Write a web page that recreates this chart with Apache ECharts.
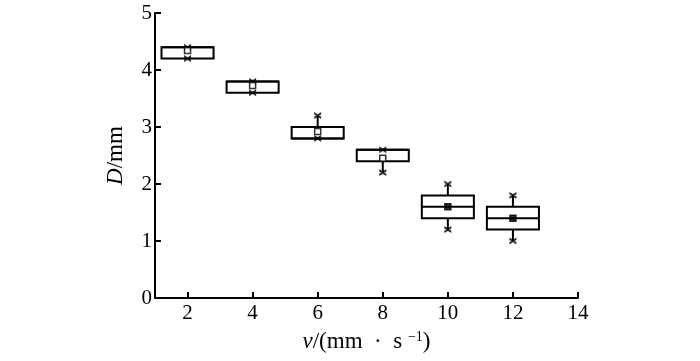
<!DOCTYPE html>
<html>
<head>
<meta charset="utf-8">
<script src="https://cdn.jsdelivr.net/npm/echarts@6/dist/echarts.min.js"></script>
<style>html,body{margin:0;padding:0;background:#fff}#c{width:700px;height:361px}</style>
</head>
<body>
<div id="c"></div>
<script>
var speeds = [2, 4, 6, 8, 10, 12];
var minVals = [4.2, 3.6, 2.8, 2.2, 1.2, 1.0];
var q1Vals = [4.2, 3.6, 2.8, 2.4, 1.4, 1.2];
var medianVals = [4.4, 3.8, 2.8, 2.6, 1.6, 1.4];
var q3Vals = [4.4, 3.8, 3.0, 2.6, 1.8, 1.6];
var maxVals = [4.4, 3.8, 3.2, 2.6, 2.0, 1.8];
var meanVals = [4.34, 3.73, 2.92, 2.45, 1.6, 1.4];
var xTicks = [2, 4, 6, 8, 10, 12, 14];
var boxWidthUnits = 1.6;

var boxData = speeds.map(function (x, i) {
  return [x, minVals[i], q1Vals[i], medianVals[i], q3Vals[i], maxVals[i]];
});
var extremeData = [];
speeds.forEach(function (x, i) {
  extremeData.push([x, minVals[i]]);
  extremeData.push([x, maxVals[i]]);
});
var meanData = speeds.map(function (x, i) { return [x, meanVals[i]]; });

var font = '"Liberation Serif", "Times New Roman", serif';
var chart = echarts.init(document.getElementById('c'), null, {renderer: 'canvas'});
chart.setOption({
  animation: false,
  backgroundColor: '#fff',
  grid: {left: 155, right: 122, top: 13, bottom: 63, containLabel: false, outerBoundsMode: 'none'},
  xAxis: {
    type: 'value', min: 1, max: 14,
    axisLine: {show: true, lineStyle: {color: '#000', width: 2}},
    axisTick: {show: true, inside: true, length: 6, customValues: xTicks, lineStyle: {color: '#000', width: 2}},
    axisLabel: {customValues: xTicks, color: '#000', fontFamily: font, fontSize: 21, margin: 5},
    splitLine: {show: false},
    name: '{i|v}{n|/(mm  ·  s }{s|−1}{n|)}',
    nameLocation: 'middle', nameGap: 32,
    nameTextStyle: {
      rich: {
        i: {fontFamily: font, fontStyle: 'italic', fontSize: 23, color: '#000'},
        n: {fontFamily: font, fontSize: 23, color: '#000'},
        s: {fontFamily: font, fontSize: 14, color: '#000', verticalAlign: 'top', padding: [0, 0, 10, 0]}
      }
    }
  },
  yAxis: {
    type: 'value', min: 0, max: 5, interval: 1,
    axisLine: {show: true, lineStyle: {color: '#000', width: 2}},
    axisTick: {show: true, inside: true, length: 6, lineStyle: {color: '#000', width: 2}},
    axisLabel: {color: '#000', fontFamily: font, fontSize: 21, margin: 3},
    splitLine: {show: false},
    name: '{i|D}{n|/mm}',
    nameLocation: 'middle', nameGap: 28,
    nameTextStyle: {
      rich: {
        i: {fontFamily: font, fontStyle: 'italic', fontSize: 23, color: '#000'},
        n: {fontFamily: font, fontSize: 23, color: '#000'}
      }
    }
  },
  series: [
    {
      type: 'custom',
      data: boxData,
      encode: {x: 0, y: [1, 2, 3, 4, 5]},
      renderItem: function (params, api) {
        var x = api.value(0);
        var w = api.size([boxWidthUnits, 0])[0];
        var pMin = api.coord([x, api.value(1)]);
        var pQ1 = api.coord([x, api.value(2)]);
        var pMed = api.coord([x, api.value(3)]);
        var pQ3 = api.coord([x, api.value(4)]);
        var pMax = api.coord([x, api.value(5)]);
        var cx = pQ1[0];
        var st = {stroke: '#000', lineWidth: 2, fill: 'none'};
        return {
          type: 'group',
          children: [
            {type: 'line', shape: {x1: cx, y1: pQ3[1], x2: cx, y2: pMax[1]}, style: st},
            {type: 'line', shape: {x1: cx, y1: pQ1[1], x2: cx, y2: pMin[1]}, style: st},
            {type: 'rect', shape: {x: cx - w / 2, y: pQ3[1], width: w, height: pQ1[1] - pQ3[1]}, style: {stroke: '#000', lineWidth: 2, fill: '#fff'}},
            {type: 'line', shape: {x1: cx - w / 2, y1: pMed[1], x2: cx + w / 2, y2: pMed[1]}, style: st}
          ]
        };
      },
      z: 2
    },
    {
      type: 'scatter',
      data: extremeData,
      symbol: 'path://M0,0 L4,2.5 L8,0 L8,3 L5.5,4 L8,5 L8,8 L4,5.5 L0,8 L0,5 L2.5,4 L0,3 Z',
      symbolSize: 7,
      itemStyle: {color: '#000'},
      z: 3
    },
    {
      type: 'scatter',
      data: meanData,
      symbol: 'rect',
      symbolSize: 6,
      itemStyle: {
        color: function (p) { return p.dataIndex >= 4 ? '#000' : '#fff'; },
        borderColor: '#000', borderWidth: 1.5
      },
      z: 4
    }
  ]
});
</script>
</body>
</html>
